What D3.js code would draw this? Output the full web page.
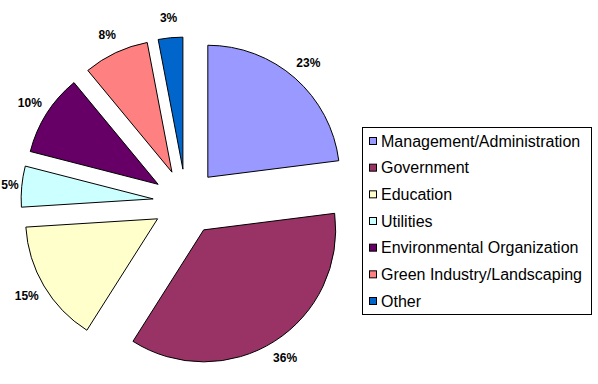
<!DOCTYPE html>
<html>
<head>
<meta charset="utf-8">
<script src="https://cdn.jsdelivr.net/npm/d3@7"></script>
<style>
  body { margin: 0; background: #fff; }
  svg { display: block; font-family: "Liberation Sans", Arial, sans-serif; }
</style>
</head>
<body>
<div id="viz"></div>
<script>
const width = 598,
    height = 384,
    radius = 132,
    explode = 33,
    labelRadius = 185;

// data
const categories = ["Management/Administration", "Government", "Education", "Utilities",
    "Environmental Organization", "Green Industry/Landscaping", "Other"];
const shares = [23, 36, 15, 5, 10, 8, 3];
const colors = ["#9999FF", "#993366", "#FFFFCC", "#CCFFFF", "#660066", "#FF8080", "#0066CC"];

const data = categories.map((c, i) => ({ name: c, value: shares[i] }));

const color = d3.scaleOrdinal(categories, colors);

const cx = 186, cy = 202;

const svg = d3.select("#viz").append("svg")
    .attr("width", width)
    .attr("height", height);

const pieG = svg.append("g")
    .attr("transform", "translate(" + cx + "," + cy + ")");

const pie = d3.pie()
    .sort(null)
    .value(d => d.value);

const arc = d3.arc()
    .innerRadius(0)
    .outerRadius(radius);

const arcs = pie(data);

function offset(d, r) {
    let a = (d.startAngle + d.endAngle) / 2;
    return [Math.sin(a) * r, -Math.cos(a) * r];
}

pieG.selectAll(".slice")
    .data(arcs)
    .enter().append("path")
    .attr("class", "slice")
    .attr("transform", d => "translate(" + offset(d, explode) + ")")
    .attr("d", arc)
    .attr("fill", d => color(d.data.name))
    .attr("stroke", "#000")
    .attr("stroke-width", 1)
    .attr("stroke-linejoin", "round");

// labels kept inside the left edge of the picture
pieG.selectAll(".label")
    .data(arcs)
    .enter().append("text")
    .attr("class", "label")
    .attr("x", d => Math.max(offset(d, labelRadius)[0], 10 - cx))
    .attr("y", d => offset(d, labelRadius)[1])
    .attr("text-anchor", "middle")
    .attr("dy", "0.35em")
    .attr("font-size", "12px")
    .attr("font-weight", "bold")
    .attr("fill", "#000")
    .text(d => d.data.value + "%");

// legend
const legend = svg.append("g")
    .attr("transform", "translate(362,127)");

legend.append("rect")
    .attr("x", 0.5)
    .attr("y", 0.5)
    .attr("width", 229)
    .attr("height", 187)
    .attr("fill", "#fff")
    .attr("stroke", "#000")
    .attr("stroke-width", 1);

const y = d3.scalePoint()
    .domain(categories)
    .range([14, 174]);

const item = legend.selectAll(".item")
    .data(categories)
    .enter().append("g")
    .attr("class", "item")
    .attr("transform", d => "translate(0," + y(d) + ")");

item.append("rect")
    .attr("x", 7.5)
    .attr("y", -3.5)
    .attr("width", 7)
    .attr("height", 7)
    .attr("fill", d => color(d))
    .attr("stroke", "#000")
    .attr("stroke-width", 1);

item.append("text")
    .attr("x", 19)
    .attr("dy", "0.36em")
    .attr("font-size", "16px")
    .attr("fill", "#000")
    .text(d => d);
</script>
</body>
</html>
